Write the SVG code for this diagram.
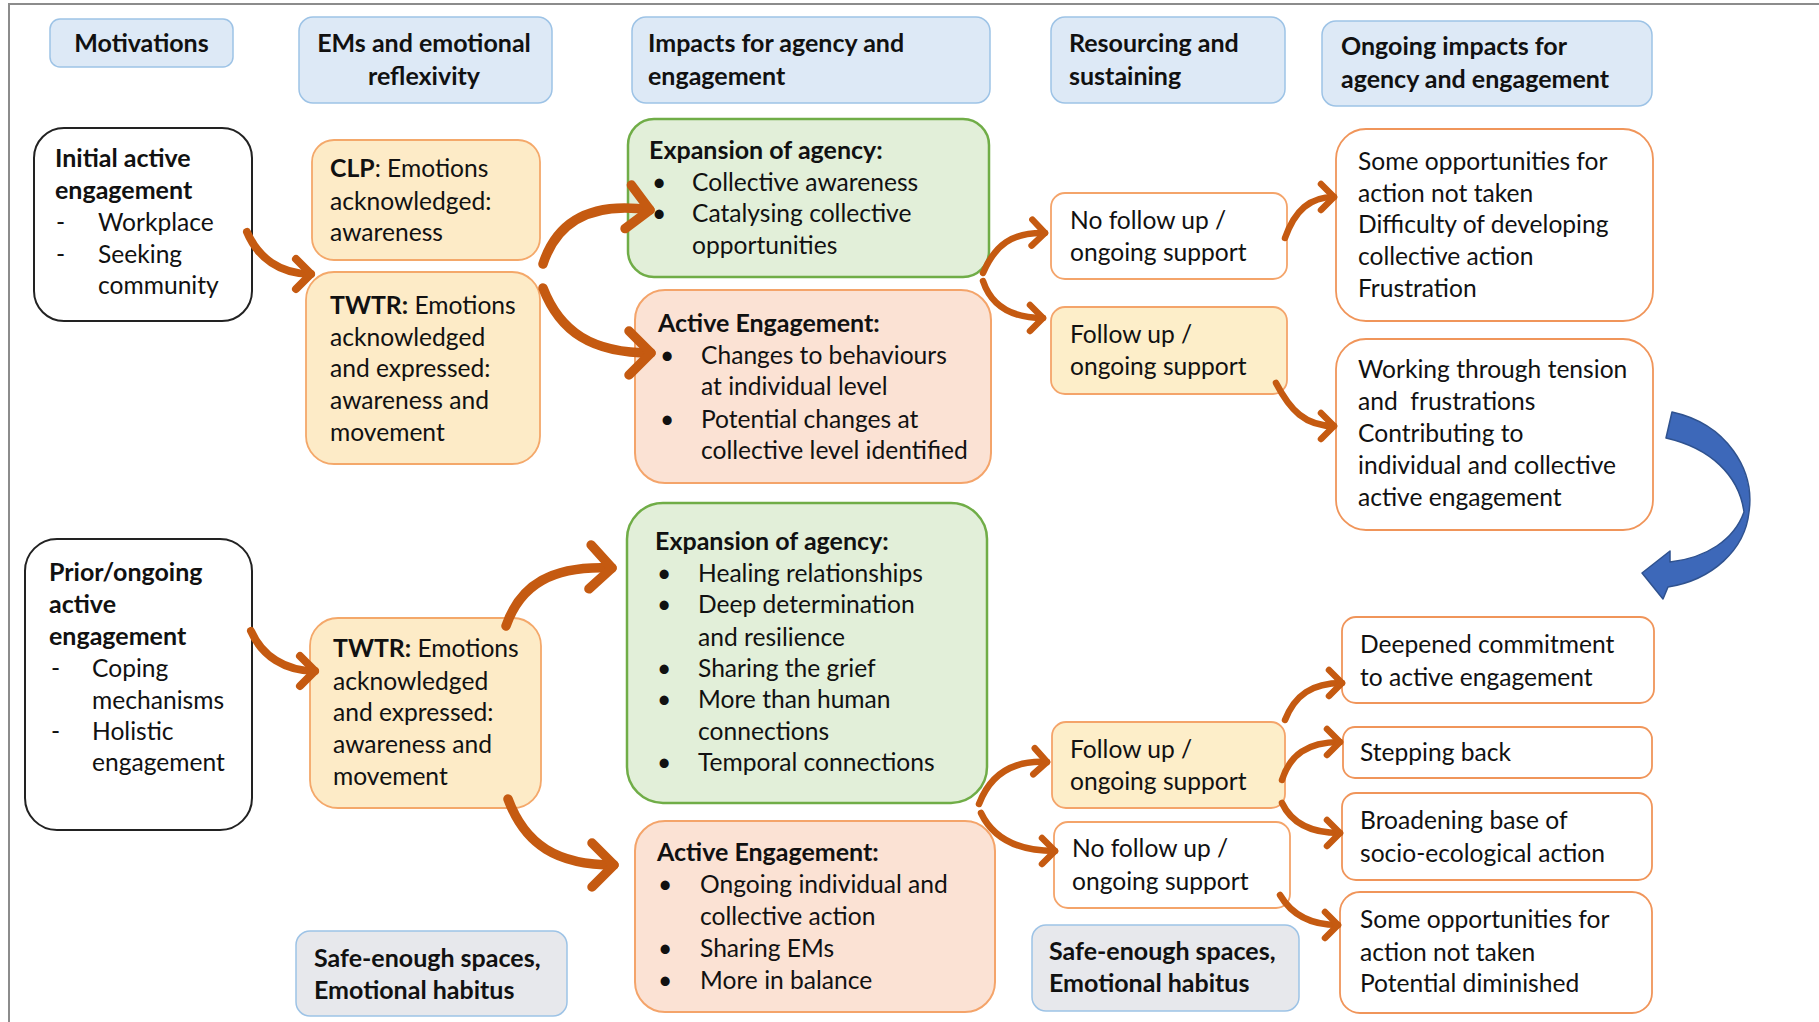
<svg xmlns="http://www.w3.org/2000/svg" width="1819" height="1022" viewBox="0 0 1819 1022">
<style>
text{font-family:Lato,"Open Sans","Liberation Sans",sans-serif;font-size:24.6px;fill:#111;white-space:pre}
.b{font-weight:700;font-size:25px}
tspan.b{font-size:24.8px}
.mid{text-anchor:middle}
.hdr{fill:#dde9f6;stroke:#9dc3e6;stroke-width:1.5}
.safe{fill:#e7e8ec;stroke:#9dc3e6;stroke-width:1.5}
.mot{fill:#fff;stroke:#222;stroke-width:2}
.emo{fill:#fdebc7;stroke:#f4a86a;stroke-width:1.8}
.exp{fill:#e2efd9;stroke:#70ad47;stroke-width:2.5}
.ae{fill:#fbe2d4;stroke:#f4a46a;stroke-width:2}
.fu{fill:#fdeec9;stroke:#f4a46a;stroke-width:1.8}
.nofu{fill:#fff;stroke:#f4a46a;stroke-width:1.8}
.out{fill:#fff;stroke:#f0955a;stroke-width:1.8}
.arr{fill:none;stroke:#c55a11;stroke-linecap:round}
.big{stroke-width:9.5;marker-end:url(#hBig)}
.med{stroke-width:8;marker-end:url(#hMed)}
.sm{stroke-width:6.5;marker-end:url(#hSm)}
</style>
<defs>
<marker id="hBig" markerUnits="userSpaceOnUse" orient="auto" overflow="visible" refX="0" refY="0" markerWidth="1" markerHeight="1">
<path d="M-22,-22 L0,0 L-22,22" fill="none" stroke="#c55a11" stroke-width="9.5" stroke-linecap="round" stroke-linejoin="round"/>
</marker>
<marker id="hMed" markerUnits="userSpaceOnUse" orient="auto" overflow="visible" refX="0" refY="0" markerWidth="1" markerHeight="1">
<path d="M-15,-15 L0,0 L-15,15" fill="none" stroke="#c55a11" stroke-width="8" stroke-linecap="round" stroke-linejoin="round"/>
</marker>
<marker id="hSm" markerUnits="userSpaceOnUse" orient="auto" overflow="visible" refX="0" refY="0" markerWidth="1" markerHeight="1">
<path d="M-13,-13 L0,0 L-13,13" fill="none" stroke="#c55a11" stroke-width="6.5" stroke-linecap="round" stroke-linejoin="round"/>
</marker>
</defs>
<rect width="1819" height="1022" fill="#fff"/>
<path d="M9,1022 V4 H1819" fill="none" stroke="#8c8c8c" stroke-width="2"/>

<!-- headers -->
<g id="h-motivations"><rect class="hdr" x="50" y="19" width="183" height="48" rx="10"/><text class="b mid" x="141.5" y="52">Motivations</text></g>
<g id="h-ems"><rect class="hdr" x="299" y="17" width="253" height="86" rx="14"/><text class="b mid" x="424" y="52">EMs and emotional</text><text class="b mid" x="424" y="85">reflexivity</text></g>
<g id="h-impacts"><rect class="hdr" x="632" y="17" width="358" height="86" rx="14"/><text class="b" x="648" y="52">Impacts for agency and</text><text class="b" x="648" y="85">engagement</text></g>
<g id="h-resourcing"><rect class="hdr" x="1051" y="17" width="234" height="86" rx="14"/><text class="b" x="1069" y="52">Resourcing and</text><text class="b" x="1069" y="85">sustaining</text></g>
<g id="h-ongoing"><rect class="hdr" x="1322" y="21" width="330" height="85" rx="14"/><text class="b" x="1341" y="55">Ongoing impacts for</text><text class="b" x="1341" y="88">agency and engagement</text></g>

<!-- row 1 -->
<g id="n-initial"><rect class="mot" x="34" y="128" width="218" height="193" rx="30"/>
<text class="b" x="55" y="167">Initial active</text><text class="b" x="55" y="199">engagement</text>
<text x="56" y="231">-</text><text x="98" y="231">Workplace</text>
<text x="56" y="263">-</text><text x="98" y="263">Seeking</text>
<text x="98" y="294">community</text></g>

<g id="n-clp"><rect class="emo" x="312" y="140" width="228" height="120" rx="22"/>
<text x="330" y="177"><tspan class="b">CLP</tspan>: Emotions</text><text x="330" y="210">acknowledged:</text><text x="330" y="241">awareness</text></g>

<g id="n-twtr1"><rect class="emo" x="306" y="272" width="234" height="192" rx="28"/>
<text x="330" y="314"><tspan class="b">TWTR:</tspan> Emotions</text><text x="330" y="346">acknowledged</text><text x="330" y="377">and expressed:</text><text x="330" y="409">awareness and</text><text x="330" y="441">movement</text></g>

<g id="n-exp1"><rect class="exp" x="628" y="119" width="361" height="158" rx="26"/>
<text class="b" x="649" y="159">Expansion of agency:</text>
<text x="652" y="191">•</text><text x="692" y="191">Collective awareness</text>
<text x="652" y="222">•</text><text x="692" y="222">Catalysing collective</text>
<text x="692" y="254">opportunities</text></g>

<g id="n-ae1"><rect class="ae" x="635" y="290" width="356" height="193" rx="30"/>
<text class="b" x="658" y="332">Active Engagement:</text>
<text x="660" y="364">•</text><text x="701" y="364">Changes to behaviours</text>
<text x="701" y="395">at individual level</text>
<text x="660" y="428">•</text><text x="701" y="428">Potential changes at</text>
<text x="701" y="459">collective level identified</text></g>

<g id="n-nofu1"><rect class="nofu" x="1051" y="193" width="236" height="86" rx="14"/>
<text x="1070" y="229">No follow up /</text><text x="1070" y="261">ongoing support</text></g>
<g id="n-fu1"><rect class="fu" x="1051" y="307" width="236" height="87" rx="14"/>
<text x="1070" y="343">Follow up /</text><text x="1070" y="375">ongoing support</text></g>

<g id="n-someopp1"><rect class="out" x="1336" y="129" width="317" height="192" rx="30"/>
<text x="1358" y="170">Some opportunities for</text><text x="1358" y="202">action not taken</text><text x="1358" y="233">Difficulty of developing</text><text x="1358" y="265">collective action</text><text x="1358" y="297">Frustration</text></g>

<g id="n-working"><rect class="out" x="1336" y="339" width="317" height="191" rx="30"/>
<text x="1358" y="378">Working through tension</text><text x="1358" y="410">and  frustrations</text><text x="1358" y="442">Contributing to</text><text x="1358" y="474">individual and collective</text><text x="1358" y="506">active engagement</text></g>

<!-- row 2 -->
<g id="n-prior"><rect class="mot" x="25" y="539" width="227" height="291" rx="32"/>
<text class="b" x="49" y="581">Prior/ongoing</text><text class="b" x="49" y="613">active</text><text class="b" x="49" y="645">engagement</text>
<text x="51" y="677">-</text><text x="92" y="677">Coping</text><text x="92" y="709">mechanisms</text>
<text x="51" y="740">-</text><text x="92" y="740">Holistic</text><text x="92" y="771">engagement</text></g>

<g id="n-twtr2"><rect class="emo" x="310" y="618" width="231" height="190" rx="28"/>
<text x="333" y="657"><tspan class="b">TWTR:</tspan> Emotions</text><text x="333" y="690">acknowledged</text><text x="333" y="721">and expressed:</text><text x="333" y="753">awareness and</text><text x="333" y="785">movement</text></g>

<g id="n-exp2"><rect class="exp" x="627" y="503" width="360" height="300" rx="36"/>
<text class="b" x="655" y="550">Expansion of agency:</text>
<text x="657" y="582">•</text><text x="698" y="582">Healing relationships</text>
<text x="657" y="613">•</text><text x="698" y="613">Deep determination</text>
<text x="698" y="646">and resilience</text>
<text x="657" y="677">•</text><text x="698" y="677">Sharing the grief</text>
<text x="657" y="708">•</text><text x="698" y="708">More than human</text>
<text x="698" y="740">connections</text>
<text x="657" y="771">•</text><text x="698" y="771">Temporal connections</text></g>

<g id="n-ae2"><rect class="ae" x="635" y="821" width="360" height="191" rx="30"/>
<text class="b" x="657" y="861">Active Engagement:</text>
<text x="658" y="893">•</text><text x="700" y="893">Ongoing individual and</text>
<text x="700" y="925">collective action</text>
<text x="658" y="957">•</text><text x="700" y="957">Sharing EMs</text>
<text x="658" y="989">•</text><text x="700" y="989">More in balance</text></g>

<g id="n-fu2"><rect class="fu" x="1052" y="722" width="233" height="86" rx="14"/>
<text x="1070" y="758">Follow up /</text><text x="1070" y="790">ongoing support</text></g>
<g id="n-nofu2"><rect class="nofu" x="1054" y="822" width="236" height="86" rx="14"/>
<text x="1072" y="857">No follow up /</text><text x="1072" y="890">ongoing support</text></g>

<g id="n-safe-left"><rect class="safe" x="296" y="931" width="271" height="85" rx="14"/>
<text class="b" x="314" y="967">Safe-enough spaces,</text><text class="b" x="314" y="999">Emotional habitus</text></g>
<g id="n-safe-right"><rect class="safe" x="1032" y="925" width="267" height="86" rx="14"/>
<text class="b" x="1049" y="960">Safe-enough spaces,</text><text class="b" x="1049" y="992">Emotional habitus</text></g>

<g id="n-deepened"><rect class="out" x="1342" y="617" width="312" height="86" rx="14"/>
<text x="1360" y="653">Deepened commitment</text><text x="1360" y="686">to active engagement</text></g>
<g id="n-stepping"><rect class="out" x="1343" y="727" width="309" height="51" rx="12"/>
<text x="1360" y="761">Stepping back</text></g>
<g id="n-broadening"><rect class="out" x="1342" y="793" width="310" height="87" rx="14"/>
<text x="1360" y="829">Broadening base of</text><text x="1360" y="862">socio-ecological action</text></g>
<g id="n-someopp2"><rect class="out" x="1340" y="892" width="312" height="121" rx="20"/>
<text x="1360" y="928">Some opportunities for</text><text x="1360" y="961">action not taken</text><text x="1360" y="992">Potential diminished</text></g>

<!-- connectors -->
<g id="connectors">
<path class="arr med" d="M247,232 C258,258 280,274 311,274"/>
<path class="arr big" d="M543,264 C558,218 595,202 650,210"/>
<path class="arr big" d="M543,288 C560,332 592,353 651,353"/>
<path class="arr med" d="M251,631 C262,656 285,671 315,671"/>
<path class="arr big" d="M506,626 C520,585 552,565 612,568"/>
<path class="arr big" d="M508,799 C525,845 557,865 614,865"/>
<path class="arr sm" d="M983,273 C995,245 1012,232 1045,233"/>
<path class="arr sm" d="M983,281 C990,302 1007,318 1043,318"/>
<path class="arr sm" d="M1285,238 C1295,210 1310,197 1334,197"/>
<path class="arr sm" d="M1276,383 C1290,410 1305,426 1334,426"/>
<path class="arr sm" d="M979,804 C990,775 1012,760 1047,762"/>
<path class="arr sm" d="M981,813 C992,836 1014,851 1055,851"/>
<path class="arr sm" d="M1285,720 C1295,695 1312,683 1342,683"/>
<path class="arr sm" d="M1282,780 C1290,755 1307,742 1340,742"/>
<path class="arr sm" d="M1282,803 C1290,820 1307,833 1340,833"/>
<path class="arr sm" d="M1280,895 C1290,912 1307,925 1338,925"/>
<path d="M1672,412 C1727,424 1755,470 1749,512 C1745,550 1712,580 1668,587 L1663,599 L1642,573 L1670,551 L1670,562 C1706,558 1734,540 1744,512 C1739,475 1710,448 1666,438 Z" fill="#3d68b9" stroke="#2f528f" stroke-width="1.5" stroke-linejoin="round"/>
</g>
</svg>
